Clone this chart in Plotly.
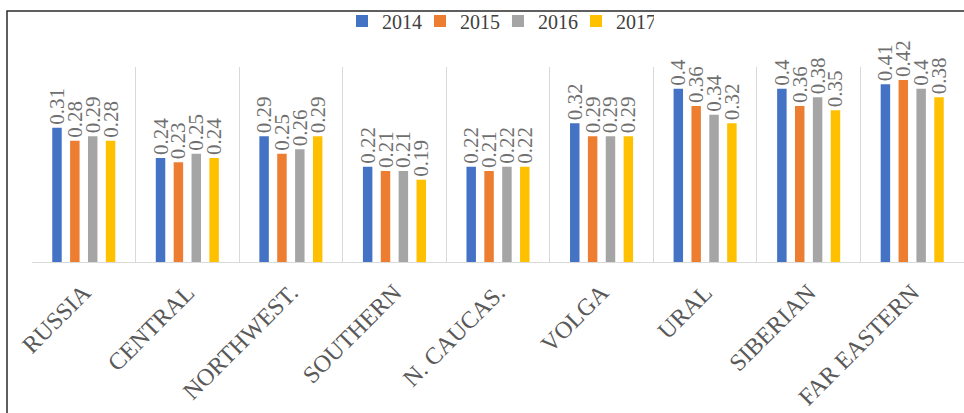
import plotly.graph_objects as go

categories = ["RUSSIA", "CENTRAL", "NORTHWEST.", "SOUTHERN", "N. CAUCAS.",
              "VOLGA", "URAL", "SIBERIAN", "FAR EASTERN"]
years = ["2014", "2015", "2016", "2017"]
v2014 = [0.31, 0.24, 0.29, 0.22, 0.22, 0.32, 0.4, 0.4, 0.41]
v2015 = [0.28, 0.23, 0.25, 0.21, 0.21, 0.29, 0.36, 0.36, 0.42]
v2016 = [0.29, 0.25, 0.26, 0.21, 0.22, 0.29, 0.34, 0.38, 0.4]
v2017 = [0.28, 0.24, 0.29, 0.19, 0.22, 0.29, 0.32, 0.35, 0.38]

series = [v2014, v2015, v2016, v2017]
colors = ["#4472C4", "#ED7D31", "#A5A5A5", "#FFC000"]

W, H = 964, 413
L, R, T, B = 32, 0, 67, 151
serif = "Liberation Serif, Times New Roman, serif"

fig = go.Figure()
for name, vals, col in zip(years, series, colors):
    fig.add_trace(go.Bar(
        x=categories, y=vals, name=name, marker=dict(color=col, line=dict(width=0)),
        text=[str(v) for v in vals], textposition="outside", textangle=-90,
        constraintext="none", cliponaxis=False,
        textfont=dict(family=serif, size=21, color="#6f6f6f"),
    ))

pw = W - L - R
ph = H - T - B
def px(x):
    return (x - L) / pw
def py(y):
    return (H - B - y) / ph

fig.add_shape(type="path", xref="paper", yref="paper",
              path=f"M {px(7)} {py(413)} L {px(7)} {py(11)} L {px(964)} {py(11)}",
              line=dict(color="#2b2b2b", width=1.5))

fig.update_layout(
    width=W, height=H,
    margin=dict(l=L, r=R, t=T, b=B, autoexpand=False),
    paper_bgcolor="white", plot_bgcolor="white",
    barmode="group", bargap=0.31, bargroupgap=0.47,
    showlegend=True,
    legend=dict(orientation="h", x=px(498), xanchor="center", y=py(21), yanchor="middle",
                font=dict(family=serif, size=20, color="#404040"),
                bgcolor="rgba(0,0,0,0)", itemwidth=30, traceorder="normal",
                entrywidth=33, entrywidthmode="pixels"),
    xaxis=dict(tickangle=-45, tickson="boundaries", showgrid=True, gridcolor="#d9d9d9",
               gridwidth=1, showline=True, linecolor="#d9d9d9", linewidth=1, ticks="",
               tickfont=dict(family=serif, size=24, color="#595959"),
               ticklabelstandoff=6, fixedrange=True),
    yaxis=dict(range=[0, 0.45], visible=False, showgrid=False, zeroline=False),
)

fig.write_html("out.html", config={"displayModeBar": False},
               post_script="document.body.style.margin='0';document.body.style.overflow='hidden';")
